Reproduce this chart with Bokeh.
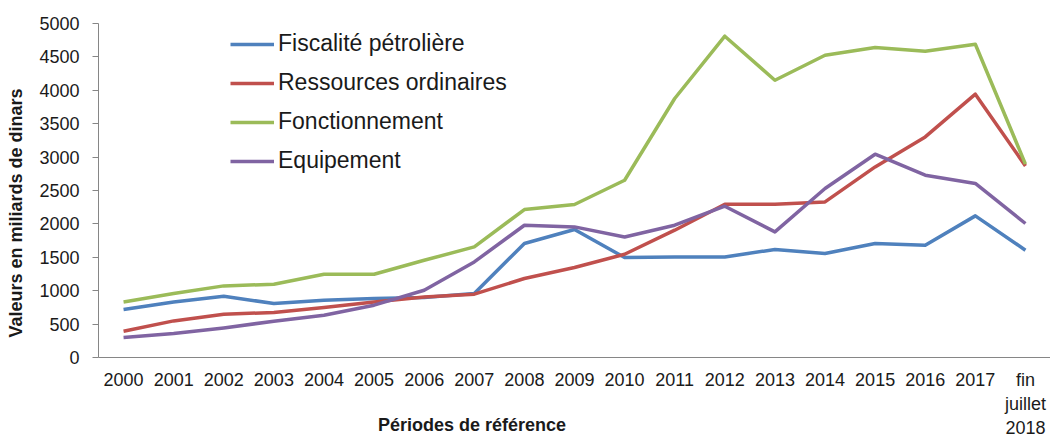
import math
from bokeh.plotting import figure
from bokeh.models import (FactorRange, Range1d, Legend, LegendItem,
                          FixedTicker, ColumnDataSource)
from bokeh.embed import file_html
from bokeh.resources import INLINE

# ---- data ----
categories = ["2000", "2001", "2002", "2003", "2004", "2005", "2006", "2007",
              "2008", "2009", "2010", "2011", "2012", "2013", "2014", "2015",
              "2016", "2017", "fin\njuillet\n2018"]
fiscalite = [719, 832, 918, 808, 858, 883, 898, 958, 1707, 1916, 1497, 1506,
             1506, 1617, 1557, 1707, 1681, 2120, 1606]
ressources = [394, 548, 648, 674, 749, 832, 907, 948, 1183, 1347, 1546, 1906,
              2295, 2295, 2329, 2853, 3302, 3942, 2868]
fonctionnement = [832, 958, 1072, 1097, 1246, 1246, 1455, 1656, 2215, 2290,
                  2654, 3877, 4810, 4151, 4525, 4641, 4585, 4690, 2894]
equipement = [299, 359, 443, 543, 633, 783, 1007, 1431, 1980, 1955, 1805,
              1980, 2265, 1880, 2530, 3043, 2729, 2605, 2006]
series_names = ["Fiscalité pétrolière", "Ressources ordinaires",
                "Fonctionnement", "Equipement"]
y_ticks = [0, 500, 1000, 1500, 2000, 2500, 3000, 3500, 4000, 4500, 5000]
x_title = "Périodes de référence"
y_title = "Valeurs en miliards de dinars"

colors = ["#4F81BD", "#C0504D", "#9BBB59", "#8064A2"]

p = figure(width=1050, height=439, output_backend="svg", toolbar_location=None,
           x_range=FactorRange(factors=categories, range_padding=0),
           y_range=Range1d(0, 5000),
           min_border_left=98, min_border_right=0, min_border_top=23,
           min_border_bottom=82)
p.outline_line_color = None
p.xgrid.grid_line_color = None
p.ygrid.grid_line_color = None

src = ColumnDataSource(dict(x=categories, f=fiscalite, r=ressources,
                            fo=fonctionnement, e=equipement))
renderers = []
for col, c in zip(["f", "r", "fo", "e"], colors):
    renderers.append(p.line("x", col, source=src, line_color=c, line_width=3.5,
                            line_join="round"))

font = "Liberation Sans"
# axes
p.yaxis.ticker = FixedTicker(ticks=y_ticks)
p.yaxis.axis_line_color = "#868686"
p.yaxis.major_tick_line_color = "#868686"
p.yaxis.major_tick_out = 6
p.yaxis.major_tick_in = 0
p.yaxis.minor_tick_line_color = None
p.yaxis.major_label_text_font = font
p.yaxis.major_label_text_font_size = "18px"
p.yaxis.major_label_text_color = "#1a1a1a"
p.yaxis.major_label_standoff = 13
p.yaxis.axis_label = y_title + "\u00a0" * 9
p.yaxis.axis_label_text_font = font
p.yaxis.axis_label_text_font_size = "18px"
p.yaxis.axis_label_text_font_style = "bold"
p.yaxis.axis_label_text_color = "#1a1a1a"
p.yaxis.axis_label_standoff = 10

p.xaxis.axis_line_color = "#868686"
p.xaxis.major_tick_line_color = None
p.xaxis.major_tick_out = 0
p.xaxis.major_tick_in = 0
p.xaxis.major_label_text_font = font
p.xaxis.major_label_text_font_size = "18px"
p.xaxis.major_label_text_color = "#1a1a1a"
p.xaxis.major_label_standoff = 12
p.xaxis.axis_label = x_title + "\u00a0" * 41
p.xaxis.axis_label_text_font = font
p.xaxis.axis_label_text_font_size = "18px"
p.xaxis.axis_label_text_font_style = "bold"
p.xaxis.axis_label_text_color = "#1a1a1a"
p.xaxis.axis_label_standoff = -26

legend = Legend(items=[LegendItem(label=n, renderers=[r])
                       for n, r in zip(series_names, renderers)],
                location=(132, 183), orientation="vertical")
legend.border_line_color = None
legend.background_fill_alpha = 0
legend.padding = 0
legend.margin = 0
legend.spacing = 12
legend.glyph_width = 44
legend.glyph_height = 22
legend.label_height = 22
legend.label_standoff = 4
legend.label_text_font = font
legend.label_text_font_size = "23px"
legend.label_text_color = "#1a1a1a"
p.add_layout(legend)

open("out.html", "w").write(file_html(p, INLINE))
